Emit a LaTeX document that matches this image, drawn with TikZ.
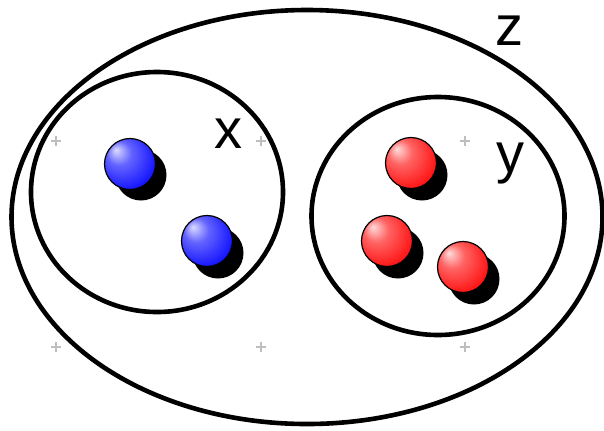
\documentclass[tikz,border=0pt]{standalone}
\usepackage{fontspec}
\setmainfont{Liberation Sans}
\usepackage{xcolor}
\usepackage{tikz}
\usetikzlibrary{shapes.geometric}
\definecolor{setBlack}{HTML}{000000}
\definecolor{gridGrey}{HTML}{BEBEBE}
\definecolor{ballBlue}{HTML}{1010FF}
\definecolor{ballRed}{HTML}{FF1010}
\pgfdeclareradialshading{blueSphere}{\pgfpoint{-14bp}{14bp}}{color(0bp)=(ballBlue!15!white); color(12bp)=(ballBlue!65!white); color(32bp)=(ballBlue); color(50bp)=(ballBlue!85!black)}
\pgfdeclareradialshading{redSphere}{\pgfpoint{-14bp}{14bp}}{color(0bp)=(ballRed!15!white); color(12bp)=(ballRed!65!white); color(32bp)=(ballRed); color(50bp)=(ballRed!85!black)}
\tikzset{
  setring/.style 2 args={ellipse, draw=setBlack, line width=2.3pt, inner sep=0pt, outer sep=0pt, minimum width=#1, minimum height=#2},
  setlabel/.style={font=\fontsize{28}{30}\selectfont, anchor=base, inner sep=0pt},
  sphere/.style={circle, draw=setBlack, line width=0.6pt, inner sep=0pt, minimum size=25.5pt, shading=#1},
  sphereshadow/.style={circle, fill=setBlack, inner sep=0pt, minimum size=25.5pt},
  gridmark/.style={draw=gridGrey, line width=0.7pt},
}

\begin{document}
\begin{tikzpicture}[x=0.5pt,y=-0.5pt]
  \useasboundingbox (0,0) rectangle (604,430);

  % grid marks
  \foreach \gx in {56,261,465} {
    \foreach \gy in {141,347} {
      \draw[gridmark] (\gx-5,\gy) -- (\gx+5,\gy) (\gx,\gy-5) -- (\gx,\gy+5);
    }
  }

  % sets
  \node[setring={295.5pt}{207pt}] (setZ) at (307,217) {};
  \node[setring={126pt}{120pt}] (setX) at (157,192) {};
  \node[setring={126.5pt}{119pt}] (setY) at (438,216) {};

  \node[setlabel] (labZ) at (509,45) {z};
  \node[setlabel] (labX) at (228,148) {x};
  \node[setlabel] (labY) at (510,172) {y};

  % elements of x
  \node[sphereshadow] (shX1) at (141,175) {};
  \node[sphereshadow] (shX2) at (218,253) {};
  \node[sphere=blueSphere] (elX1) at (130,164) {};
  \node[sphere=blueSphere] (elX2) at (207,241) {};

  % elements of y
  \node[sphereshadow] (shY1) at (422,175) {};
  \node[sphereshadow] (shY2) at (398,253) {};
  \node[sphereshadow] (shY3) at (474,279) {};
  \node[sphere=redSphere] (elY1) at (411,163) {};
  \node[sphere=redSphere] (elY2) at (387,241) {};
  \node[sphere=redSphere] (elY3) at (463,267) {};
\end{tikzpicture}
\end{document}
